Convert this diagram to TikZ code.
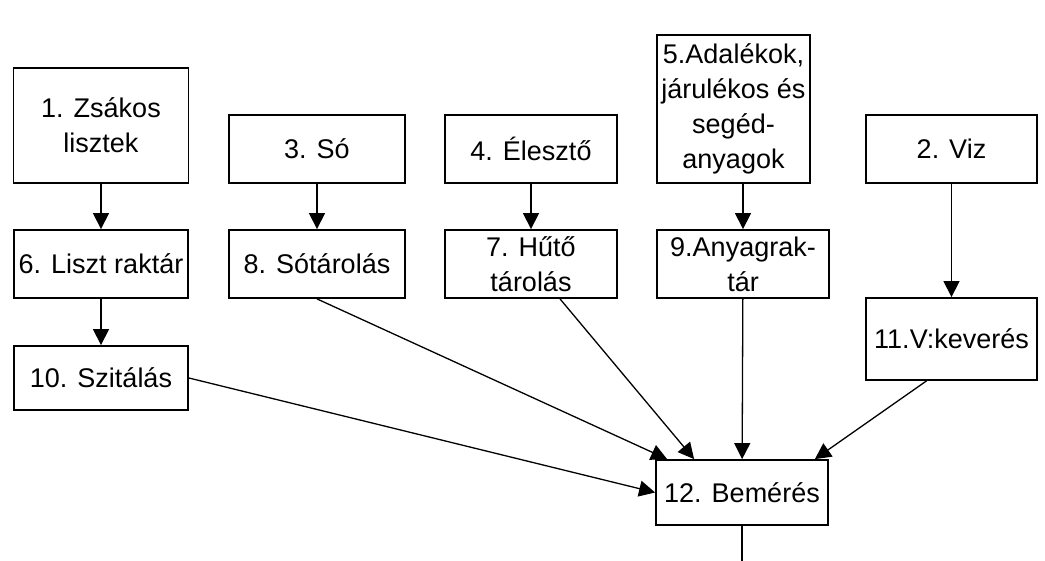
\documentclass[tikz,border=0pt]{standalone}
\usepackage{fontspec}
\setmainfont{Liberation Sans}
\usetikzlibrary{arrows.meta}
\tikzset{
  box/.style = {draw, line width = 1.8pt, align = center, inner sep = 0pt,
    font = \fontsize{27}{35}\selectfont},
  flow/.style = {line width = 1.3pt, -{Triangle[width = 16pt, length = 16pt]}}
}
\begin{document}
\begin{tikzpicture}[x = 1pt, y = -1pt]
  \useasboundingbox (0,0) rectangle (1045,561);
  % first row
  \node [box, minimum width = 175pt, minimum height = 115pt] (zsak) at (101,125.5) {1. Zsákos\\lisztek};
  \node [box, minimum width = 176pt, minimum height = 68pt] (so) at (317,149) {3. Só};
  \node [box, minimum width = 172pt, minimum height = 68pt] (eleszto) at (531,149) {4. Élesztő};
  \node [box, minimum width = 153pt, minimum height = 148pt] (adalek) at (733.5,109) {5.Adalékok,\\járulékos és\\segéd-\\anyagok};
  \node [box, minimum width = 171pt, minimum height = 68pt] (viz) at (951.5,149) {2. Viz};
  % second row
  \node [box, minimum width = 174pt, minimum height = 68pt] (liszt) at (101,264) {6. Liszt raktár};
  \node [box, minimum width = 176pt, minimum height = 68pt] (sotar) at (317,264) {8. Sótárolás};
  \node [box, minimum width = 172pt, minimum height = 68pt] (huto) at (531,264) {7. Hűtő\\tárolás};
  \node [box, minimum width = 172pt, minimum height = 68pt] (anyag) at (743,264) {9.Anyagrak-\\tár};
  \node [box, minimum width = 171pt, minimum height = 82pt] (vkev) at (951.5,339) {11.V:keverés};
  \node [box, minimum width = 174pt, minimum height = 64pt] (szita) at (101,378) {10. Szitálás};
  \node [box, minimum width = 172pt, minimum height = 65pt] (bemer) at (742,492.5) {12. Bemérés};
  \coordinate (exit) at (742,561);
  % connectors
  \draw [flow] (zsak) -- (liszt);
  \draw [flow] (so) -- (sotar);
  \draw [flow] (eleszto) -- (huto);
  \draw [flow] (adalek.south -| anyag) -- (anyag);
  \draw [flow] (viz) -- (vkev);
  \draw [flow] (liszt) -- (szita);
  \draw [flow] (szita.east) -- (bemer.west);
  \draw [flow] (sotar.south) -- ([xshift = 12pt]bemer.north west);
  \draw [flow] ([xshift = 29pt]huto.south) -- ([xshift = 39pt]bemer.north west);
  \draw [flow] (anyag) -- (bemer);
  \draw [flow] ([xshift = -25pt]vkev.south) -- ([xshift = -14pt]bemer.north east);
  \draw [line width = 1.3pt] (bemer) -- (exit);
\end{tikzpicture}
\end{document}
